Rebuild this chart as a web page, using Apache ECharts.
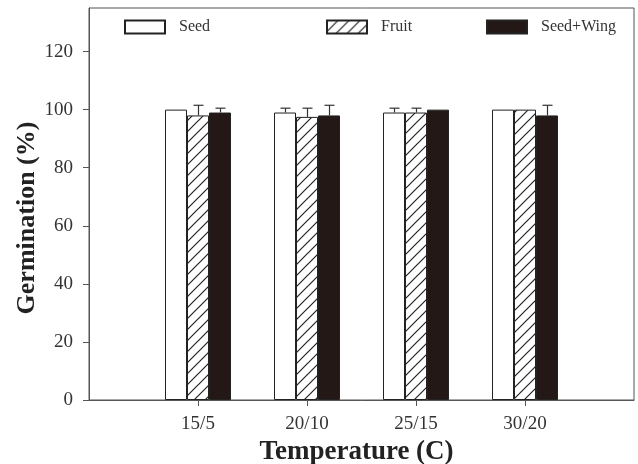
<!DOCTYPE html>
<html>
<head>
<meta charset="utf-8">
<script src="https://cdn.jsdelivr.net/npm/echarts@6/dist/echarts.min.js"></script>
<style>html,body{margin:0;padding:0;background:#fff}#c{width:638px;height:464px}</style>
</head>
<body>
<div id="c"></div>
<script>
const categories = ['', '15/5', '20/10', '25/15', '30/20', ''];
const seriesNames = ['Seed', 'Fruit', 'Seed+Wing'];
const seedVals = [null, 100, 99, 99, 100, null];
const fruitVals = [null, 98, 97.5, 99, 100, null];
const wingVals = [null, 99, 98, 100, 98, null];
const seedErr = [null, 0, 1.5, 1.5, 0, null];
const fruitErr = [null, 3.5, 3, 1.5, 0, null];
const wingErr = [null, 1.5, 3.5, 0, 3.5, null];
const yTicks = [0, 20, 40, 60, 80, 100, 120];

const FONT = 'Liberation Serif';
const BAR_W = 22;
const DARK = '#231815';

// hatch pattern
const S = 11;
const pc = document.createElement('canvas');
pc.width = S; pc.height = S;
const g = pc.getContext('2d');
g.fillStyle = '#fff'; g.fillRect(0, 0, S, S);
g.strokeStyle = '#222'; g.lineWidth = 1.2;
g.beginPath();
g.moveTo(-2, S + 2); g.lineTo(S + 2, -2);
g.moveTo(-2, 2); g.lineTo(2, -2);
g.moveTo(S - 2, S + 2); g.lineTo(S + 2, S - 2);
g.stroke();
const hatch = { image: pc, repeat: 'repeat' };

const values = [seedVals, fruitVals, wingVals];
const errs = [seedErr, fruitErr, wingErr];
const fills = ['#ffffff', hatch, DARK];

const series = [];
values.forEach((v, i) => {
  series.push({
    name: seriesNames[i], type: 'bar', data: v, barWidth: BAR_W, barGap: '0%',
    itemStyle: { color: fills[i], borderColor: '#222', borderWidth: 1 },
    silent: true, z: 2
  });
});
errs.forEach((e, i) => {
  const off = (i - 1) * BAR_W;
  const data = [];
  e.forEach((err, k) => { if (err) data.push([k, values[i][k], err]); });
  series.push({
    type: 'custom', silent: true, z: 3,
    data: data,
    renderItem: function (params, api) {
      const k = api.value(0), v = api.value(1), er = api.value(2);
      const p0 = api.coord([k, v]);
      const p1 = api.coord([k, v + er]);
      const x = Math.round(p0[0] + off) + 0.5;
      const st = { stroke: '#333', lineWidth: 1.2 };
      return { type: 'group', children: [
        { type: 'line', shape: { x1: x, y1: p0[1], x2: x, y2: p1[1] }, style: st },
        { type: 'line', shape: { x1: x - 5, y1: p1[1], x2: x + 5, y2: p1[1] }, style: st }
      ]};
    }
  });
});

const legendLefts = [124, 326, 486];
const legends = seriesNames.map((n, i) => ({
  data: [n], left: legendLefts[i], top: 19, itemWidth: 40, itemHeight: 13, padding: 0,
  icon: 'rect', selectedMode: false,
  textStyle: { fontFamily: FONT, fontSize: 16, color: '#333', padding: [0, 0, 0, 9] }
}));

const chart = echarts.init(document.getElementById('c'));
chart.setOption({
  animation: false,
  backgroundColor: '#fff',
  legend: legends,
  grid: { left: 89, right: 4, top: 8, bottom: 64, show: true, borderColor: '#555', borderWidth: 1,
          containLabel: false, outerBoundsMode: 'none' },
  xAxis: {
    type: 'category', data: categories, boundaryGap: false,
    axisLine: { lineStyle: { color: '#555', width: 1 } },
    axisTick: { length: 6, lineStyle: { color: '#555' }, interval: function (idx) { return idx > 0 && idx < categories.length - 1; } },
    axisLabel: { fontFamily: FONT, fontSize: 19, color: '#333', margin: 15, interval: 0 },
    name: 'Temperature (C)', nameLocation: 'middle', nameGap: 39, nameMoveOverlap: false,
    nameTextStyle: { fontFamily: FONT, fontSize: 27, fontWeight: 'bold', color: '#222', padding: [0, 10, 0, 0] },
    splitLine: { show: false }
  },
  yAxis: {
    type: 'value', min: 0, max: 135, interval: 20,
    axisLine: { show: true, lineStyle: { color: '#555', width: 1 } },
    axisTick: { show: true, length: 6, lineStyle: { color: '#555' }, customValues: yTicks },
    axisLabel: { fontFamily: FONT, fontSize: 19, color: '#333', margin: 16, customValues: yTicks },
    splitLine: { show: false },
    name: 'Germination (%)', nameLocation: 'middle', nameGap: 49, nameMoveOverlap: false,
    nameTextStyle: { fontFamily: FONT, fontSize: 26, fontWeight: 'bold', color: '#222', padding: [0, 28, 0, 0] }
  },
  series: series
});
</script>
</body>
</html>
